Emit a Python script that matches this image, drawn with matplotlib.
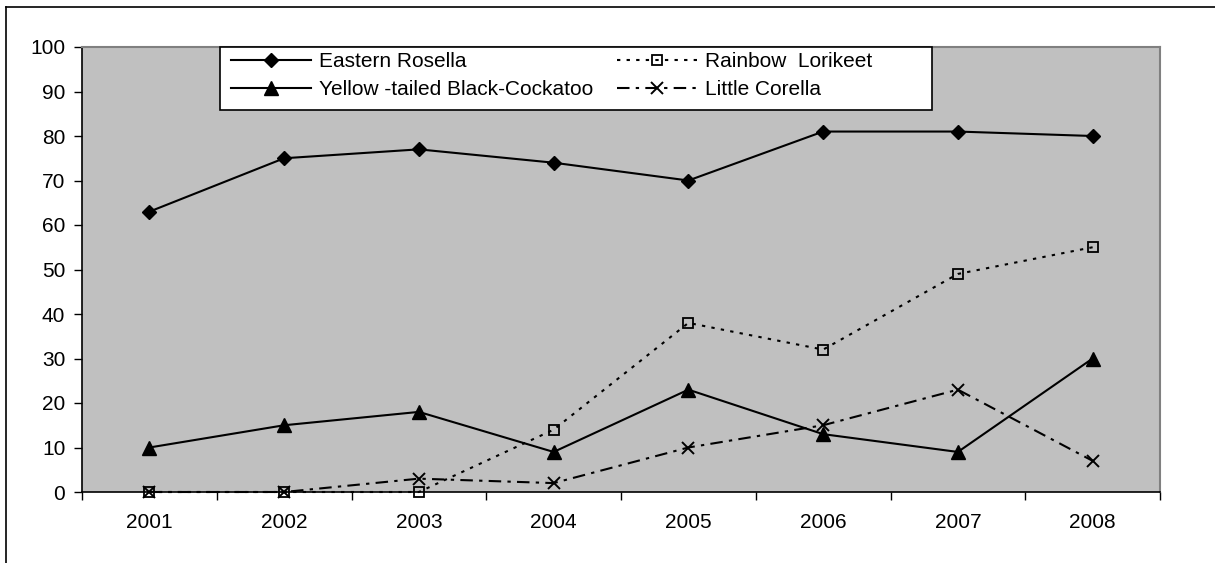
import numpy as np
import matplotlib
matplotlib.use("Agg")
import matplotlib.pyplot as plt
from matplotlib.lines import Line2D
from matplotlib.patches import Rectangle

plt.rcParams['font.family'] = ['Liberation Sans', 'DejaVu Sans']

years = ['2001', '2002', '2003', '2004', '2005', '2006', '2007', '2008']
eastern_rosella = [63, 75, 77, 74, 70, 81, 81, 80]
rainbow_lorikeet = [0, 0, 0, 14, 38, 32, 49, 55]
yellow_tailed = [10, 15, 18, 9, 23, 13, 9, 30]
little_corella = [0, 0, 3, 2, 10, 15, 23, 7]

W, H = 1215, 563
fig = plt.figure(figsize=(W / 100, H / 100), dpi=100)
ax = fig.add_axes([82 / W, 1 - 492 / H, (1160 - 82) / W, (492 - 47) / H])
ax.set_facecolor('#C0C0C0')

x = np.arange(1, len(years) + 1)
fs = 15

h1, = ax.plot(x, eastern_rosella, color='black', lw=1.5, marker='D', ms=7,
              mfc='black', mec='black', label='Eastern Rosella', clip_on=False)
h2, = ax.plot(x, rainbow_lorikeet, color='black', lw=1.5, dashes=(1.6, 3.0),
              marker='s', ms=7.5, mfc='none', mec='black', mew=1.3,
              label='Rainbow  Lorikeet', clip_on=False)
h3, = ax.plot(x, yellow_tailed, color='black', lw=1.5, marker='^', ms=9.5,
              mfc='black', mec='black', label='Yellow -tailed Black-Cockatoo',
              clip_on=False)
h4, = ax.plot(x, little_corella, color='black', lw=1.5, dashes=(6, 3, 1.6, 3),
              marker='x', ms=9, mew=1.4, mec='black',
              label='Little Corella', clip_on=False)

ax.set_xlim(0.5, len(years) + 0.5)
ax.set_ylim(0, 100)
ax.set_yticks(np.arange(0, 101, 10))
ax.set_xticks(np.arange(0.5, len(years) + 1, 1))
ax.set_xticklabels([])
ax.set_xticks(x, minor=True)
ax.set_xticklabels(years, minor=True)
ax.tick_params(axis='x', which='major', direction='out', length=6, width=1, color='black')
ax.tick_params(axis='x', which='minor', length=0, pad=15, labelsize=fs)
ax.tick_params(axis='y', direction='out', length=6, width=1, pad=6, labelsize=fs)

for side in ['top', 'right']:
    ax.spines[side].set_color('#808080')
    ax.spines[side].set_linewidth(1.5)
for side in ['left', 'bottom']:
    ax.spines[side].set_color('black')
    ax.spines[side].set_linewidth(1.2)

# legend box drawn separately so it can keep the wide right margin
fig.add_artist(Rectangle((220 / W, 1 - 110 / H), (932 - 220) / W, (110 - 47) / H,
                         transform=fig.transFigure, facecolor='white',
                         edgecolor='black', lw=1.2, zorder=3))
leg = fig.legend([h1, h3, h2, h4],
                 ['Eastern Rosella', 'Yellow -tailed Black-Cockatoo',
                  'Rainbow  Lorikeet', 'Little Corella'],
                 ncol=2, loc='upper left', bbox_to_anchor=(231 / W, 1 - 52 / H),
                 fontsize=fs, numpoints=1, handlelength=3.85, handletextpad=0.38,
                 columnspacing=1.15, labelspacing=0.45, borderpad=0,
                 borderaxespad=0, frameon=False)
leg.set_zorder(4)

# chart area border, open to the right and bottom
fig.add_artist(Line2D([6 / W, 6 / W], [0, 1 - 7 / H], color='black', lw=1.2,
                      transform=fig.transFigure))
fig.add_artist(Line2D([6 / W, 1], [1 - 7 / H, 1 - 7 / H], color='black', lw=1.2,
                      transform=fig.transFigure))

fig.savefig('out.png', dpi=100, facecolor='white')
